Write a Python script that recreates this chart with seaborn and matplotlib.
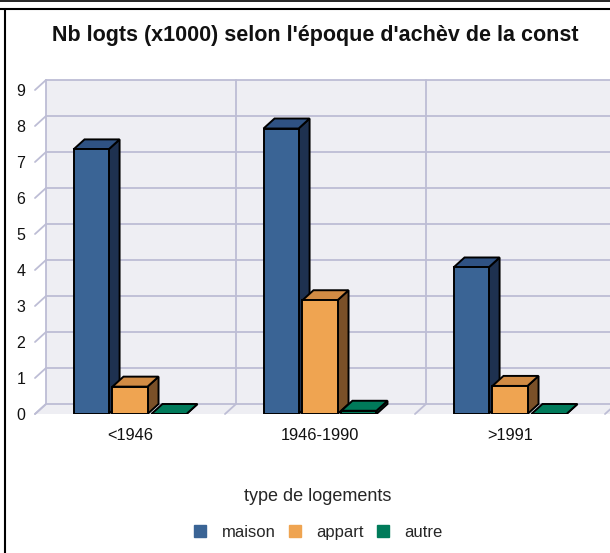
import matplotlib
matplotlib.use("Agg")
import matplotlib.pyplot as plt
from matplotlib.patches import Polygon
from matplotlib.lines import Line2D
import seaborn as sns
import pandas as pd

categories = ["<1946", "1946-1990", ">1991"]
types = ["maison", "appart", "autre"]
maison = [7.35, 7.93, 4.07]
appart = [0.76, 3.16, 0.78]
autre = [0.0, 0.09, 0.0]

title = "Nb logts (x1000) selon l'époque d'achèv de la const"
legend_title = "type de logements"

front_colors = ["#3A6495", "#EFA451", "#007B5A"]
top_colors = ["#2F5283", "#D18B44", "#007A5A"]
side_colors = ["#1E3150", "#7A5028", "#00573F"]

rows = []
for t, vals in zip(types, [maison, appart, autre]):
    for c, v in zip(categories, vals):
        rows.append({"epoque": c, "type": t, "val": v})
df = pd.DataFrame(rows)

sns.set_theme(style="white")
plt.rcParams["font.family"] = ["Liberation Sans", "DejaVu Sans"]

W, H = 610, 553
fig = plt.figure(figsize=(W / 100, H / 100), dpi=100)
ymax = 9.3
ax = fig.add_axes([35 / W, (H - 414) / H, 570 / W, ymax * 36 / H])
ax.set_xlim(-0.5, 2.5)
ax.set_ylim(0, ymax)

ddx = 11 / 190.0
ddy = 10 / 36.0
wall = "#EEEEF3"
grid = "#BDBDD5"

ax.add_patch(Polygon([(-0.5 + ddx, ddy), (2.6 + ddx, ddy), (2.6 + ddx, 9 + ddy), (-0.5 + ddx, 9 + ddy)],
                     closed=True, facecolor=wall, edgecolor="none", zorder=0, clip_on=False))
ax.add_patch(Polygon([(-0.5, 0), (2.6, 0), (2.6 + ddx, ddy), (-0.5 + ddx, ddy)],
                     closed=True, facecolor=wall, edgecolor="none", zorder=0, clip_on=False))
for yv in range(10):
    ax.plot([-0.5 + ddx, 2.6 + ddx], [yv + ddy, yv + ddy], color=grid, lw=1.3, zorder=0.5, clip_on=False)
    ax.plot([-0.5, -0.5 + ddx], [yv, yv + ddy], color=grid, lw=1.3, zorder=0.5, clip_on=False)
for xv in [-0.5, 0.5, 1.5, 2.5]:
    ax.plot([xv + ddx, xv + ddx], [ddy, 9 + ddy], color=grid, lw=1.3, zorder=0.5, clip_on=False)
    ax.plot([xv, xv + ddx], [0, ddy], color=grid, lw=1.3, zorder=0.5, clip_on=False)

sns.barplot(data=df, x="epoque", y="val", hue="type", order=categories, hue_order=types,
            palette=front_colors, width=0.615, gap=0.1, edgecolor="black", linewidth=1.4,
            saturation=1, legend=False, ax=ax, zorder=3)

bars = [p for p in ax.patches if not isinstance(p, Polygon)]
bars = sorted(bars, key=lambda p: p.get_x())
for i, p in enumerate(bars):
    x, w, h = p.get_x(), p.get_width(), p.get_height()
    hexc = matplotlib.colors.to_hex(p.get_facecolor()).upper()
    k = front_colors.index(hexc) if hexc in front_colors else 0
    z = 3 + i * 0.1
    side = Polygon([(x + w, 0), (x + w + ddx, ddy), (x + w + ddx, h + ddy), (x + w, h)], closed=True,
                   facecolor=side_colors[k], edgecolor="black", lw=1.4, zorder=z, joinstyle="miter")
    top = Polygon([(x, h), (x + w, h), (x + w + ddx, h + ddy), (x + ddx, h + ddy)], closed=True,
                  facecolor=top_colors[k], edgecolor="black", lw=1.4, zorder=z + 0.01, joinstyle="miter")
    ax.add_patch(side)
    ax.add_patch(top)
    p.set_zorder(z + 0.02)

for s in ax.spines.values():
    s.set_visible(False)
ax.set_facecolor("none")
ax.set_yticks(range(10))
ax.set_yticklabels([str(v) for v in range(10)])
ax.tick_params(axis="y", length=0, pad=7, labelsize=11.5, colors="#111111")
ax.tick_params(axis="x", length=0, pad=10, labelsize=11.8, colors="#111111")
ax.set_xlabel("")
ax.set_ylabel("")
ax.grid(False)

fig.text(315 / W, 1 - 36 / H, title, ha="center", va="center", fontsize=15.5, fontweight="bold", color="#111111")

fig.add_artist(Line2D([0, 1], [1 - 1 / H, 1 - 1 / H], color="black", lw=1.2))
fig.add_artist(Line2D([0, 1], [1 - 9 / H, 1 - 9 / H], color="black", lw=1.5))
fig.add_artist(Line2D([5 / W, 5 / W], [0, 1 - 9 / H], color="black", lw=1.5))

handles = [Line2D([], [], marker="s", linestyle="none", markersize=8.5, markerfacecolor=c,
                  markeredgecolor=c) for c in front_colors]
leg = fig.legend(handles, types, title=legend_title, loc="center", bbox_to_anchor=(318 / W, 1 - 514 / H),
                 ncol=3, frameon=False, fontsize=12, title_fontsize=13, handlelength=0.8,
                 handletextpad=0.9, columnspacing=0.75, borderaxespad=0)
leg._legend_box.sep = 14

fig.savefig("out.png", dpi=100, facecolor="white")
